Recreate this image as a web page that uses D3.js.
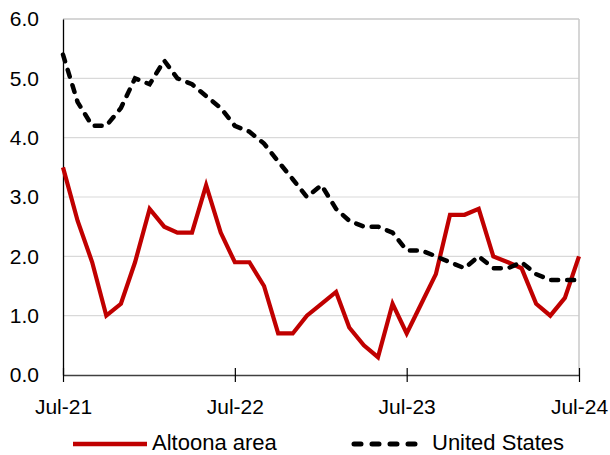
<!DOCTYPE html>
<html><head><meta charset="utf-8">
<script src="https://cdn.jsdelivr.net/npm/d3@7"></script>
<style>body{margin:0;background:#fff}svg{display:block}text{font-family:"Liberation Sans",Arial,sans-serif;fill:#000}</style>
</head><body>
<svg id="c" width="610" height="455"></svg>
<script>
const months = d3.range(37).map(i => new Date(2021, 6 + i, 1));
const altoona = [3.5,2.6,1.9,1.0,1.2,1.9,2.8,2.5,2.4,2.4,3.2,2.4,1.9,1.9,1.5,0.7,0.7,1.0,1.2,1.4,0.8,0.5,0.3,1.2,0.7,1.2,1.7,2.7,2.7,2.8,2.0,1.9,1.8,1.2,1.0,1.3,2.0];
const us = [5.4,4.6,4.2,4.2,4.5,5.0,4.9,5.3,5.0,4.9,4.7,4.5,4.2,4.1,3.9,3.6,3.3,3.0,3.2,2.8,2.6,2.5,2.5,2.4,2.1,2.1,2.0,1.9,1.8,2.0,1.8,1.8,1.9,1.7,1.6,1.6,1.6];
const yTicks = [0,1,2,3,4,5,6];
const xTickDates = [new Date(2021,6,1),new Date(2022,6,1),new Date(2023,6,1),new Date(2024,6,1)];
const seriesNames = ["Altoona area","United States"];

const svg = d3.select("#c");
const L = 63, R = 579, T = 19, B = 375;
const x = d3.scaleTime().domain([months[0], months[36]]).range([L, R]);
const y = d3.scaleLinear().domain([0, 6]).range([B, T]);

// gridlines
svg.append("g").selectAll("line").data(yTicks.filter(d => d > 0)).join("line")
  .attr("x1", L).attr("x2", R).attr("y1", d => y(d)).attr("y2", d => y(d))
  .attr("stroke", d => d === 6 ? "#c8c8c8" : "#d9d9d9").attr("stroke-width", d => d === 6 ? 1.5 : 1.2);
// right border
svg.append("line").attr("x1", R).attr("x2", R).attr("y1", T).attr("y2", B).attr("stroke", "#c8c8c8").attr("stroke-width", 1.5);

// y axis
const yAxis = d3.axisLeft(y).tickValues(yTicks).tickFormat(d3.format(".1f")).tickSize(0).tickPadding(24);
const gy = svg.append("g").attr("transform", `translate(${L},0)`).call(yAxis);
gy.select(".domain").attr("stroke", "#000").attr("stroke-width", 1.3);
gy.selectAll("text").attr("font-size", 21).attr("font-family", "Liberation Sans, Arial, sans-serif").attr("fill", "#000");

// x axis
const xAxis = d3.axisBottom(x).tickValues(xTickDates).tickFormat(d3.timeFormat("%b-%y")).tickSize(7).tickSizeOuter(0);
const gx = svg.append("g").attr("transform", `translate(0,${B})`).call(xAxis);
gx.select(".domain").attr("stroke", "#404040").attr("stroke-width", 1.3);
gx.selectAll(".tick line").attr("y1", -7).attr("stroke", "#000").attr("stroke-width", 1.2);
gx.selectAll("text").attr("y", 39).attr("dy", 0).attr("font-size", 21).attr("font-family", "Liberation Sans, Arial, sans-serif").attr("fill", "#000");

const line = d3.line().x((d, i) => x(months[i])).y(d => y(d));
svg.append("path").datum(altoona).attr("d", line).attr("fill", "none")
  .attr("stroke", "#c00000").attr("stroke-width", 4.2).attr("stroke-linejoin", "miter");
svg.append("path").datum(us).attr("d", line).attr("fill", "none")
  .attr("stroke", "#000").attr("stroke-width", 4.5).attr("stroke-dasharray", "7,9").attr("stroke-linecap", "round");

// legend
const lg = svg.append("g");
lg.append("line").attr("x1", 73).attr("x2", 147).attr("y1", 444).attr("y2", 444).attr("stroke", "#c00000").attr("stroke-width", 4.5);
lg.append("text").attr("x", 152).attr("y", 450).attr("font-size", 22).text(seriesNames[0]);
lg.append("line").attr("x1", 354).attr("x2", 425).attr("y1", 444).attr("y2", 444).attr("stroke", "#000").attr("stroke-width", 5).attr("stroke-dasharray", "7,11").attr("stroke-linecap", "round");
lg.append("text").attr("x", 432).attr("y", 450).attr("font-size", 22).text(seriesNames[1]);
</script>
</body></html>
